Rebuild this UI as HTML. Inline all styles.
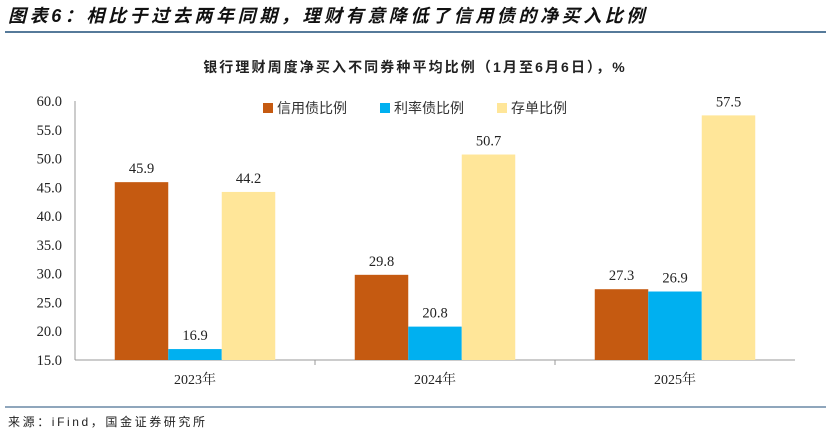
<!DOCTYPE html>
<html><head><meta charset="utf-8"><style>
body{margin:0;background:#fff;width:831px;height:436px;overflow:hidden;font-family:"Liberation Serif","Noto Serif CJK SC",serif}
</style></head><body>
<svg width="831" height="436" xmlns="http://www.w3.org/2000/svg">
<text x="8" y="22" font-size="18" font-weight="bold" font-style="italic" letter-spacing="3.6" fill="#111" font-family="Liberation Sans,Noto Sans CJK SC,sans-serif">图表6：相比于过去两年同期，理财有意降低了信用债的净买入比例</text>
<line x1="5" y1="32" x2="826" y2="32" stroke="#1f4e79" stroke-width="1.5"/>
<text x="415" y="72" font-size="14" font-weight="bold" letter-spacing="2.1" text-anchor="middle" fill="#222" font-family="Liberation Sans,Noto Sans CJK SC,sans-serif">银行理财周度净买入不同券种平均比例（1月至6月6日），%</text>
<g id="plot"></g>
<line x1="5" y1="407" x2="826" y2="407" stroke="#1f4e79" stroke-width="1"/>
<text x="8" y="426" font-size="12" letter-spacing="2.6" fill="#222" font-family="Liberation Sans,Noto Sans CJK SC,sans-serif">来源：iFind，国金证券研究所</text>
</svg>
<script>
const categories=["2023年","2024年","2025年"];
const seriesNames=["信用债比例","利率债比例","存单比例"];
const credit=[45.9,29.8,27.3];
const rate=[16.9,20.8,26.9];
const cd=[44.2,50.7,57.5];
const yTicks=[15,20,25,30,35,40,45,50,55,60];
const colors=["#c55a11","#00b0f0","#ffe699"];
const series=[credit,rate,cd];
const g=document.getElementById('plot');
const NS="http://www.w3.org/2000/svg";
const x0=75,x1=795,yTop=101,yBot=360,vmin=15,vmax=60;
const y=v=>yBot-(v-vmin)/(vmax-vmin)*(yBot-yTop);
const gw=(x1-x0)/categories.length,bw=53.5;
function el(t,a,txt){const e=document.createElementNS(NS,t);for(const k in a)e.setAttribute(k,a[k]);if(txt!=null)e.textContent=txt;g.appendChild(e);return e;}
yTicks.forEach(v=>{const e=el('text',{x:62,y:y(v)+5,'font-size':14.5,'text-anchor':'end',fill:'#222'},v.toFixed(1));

});
const ax=el('line',{x1:x0,y1:yTop,x2:x0,y2:yBot,stroke:'#999'});


const bx=el('line',{x1:x0,y1:yBot,x2:x1,y2:yBot,stroke:'#999'});


categories.forEach((c,i)=>{const cx=x0+gw*(i+0.5);
const t=el('text',{x:cx,y:384,'font-size':14,'text-anchor':'middle',fill:'#222','font-family':'Liberation Serif,Noto Serif CJK SC,serif'},c);


if(i>0){const tk=el('line',{x1:x0+gw*i,y1:yBot,x2:x0+gw*i,y2:yBot+5,stroke:'#999'});}
series.forEach((s,j)=>{const bx0=cx-1.5*bw+j*bw;const r=el('rect',{x:bx0,y:y(s[i]),width:bw,height:yBot-y(s[i]),fill:colors[j]});


const l=el('text',{x:bx0+bw/2,y:y(s[i])-9,'font-size':14.5,'text-anchor':'middle',fill:'#222'},s[i].toFixed(1));

});});
const lx=[263,380,497];
seriesNames.forEach((n,j)=>{const r=el('rect',{x:lx[j],y:103,width:10,height:10,fill:colors[j]});


const t=el('text',{x:lx[j]+14,y:113,'font-size':14,fill:'#333','font-family':'Liberation Sans,Noto Sans CJK SC,sans-serif'},n);

});
</script>
</body></html>
